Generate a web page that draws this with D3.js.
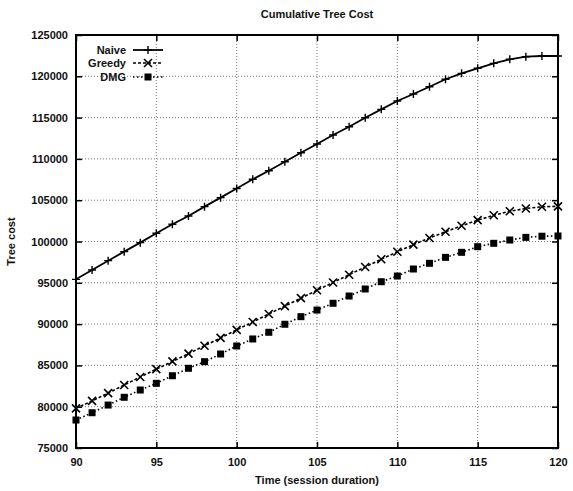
<!DOCTYPE html>
<html><head><meta charset="utf-8">
<script src="https://cdn.jsdelivr.net/npm/d3@7"></script>
<style>body{margin:0;background:#fff}svg{display:block}text{font-family:"Liberation Sans",Arial,sans-serif;fill:#111}</style>
</head><body><svg id="c" width="573" height="491"></svg>
<script>
const times = [90,91,92,93,94,95,96,97,98,99,100,101,102,103,104,105,106,107,108,109,110,111,112,113,114,115,116,117,118,119,120];
const naive = [95420,96550,97680,98770,99860,100990,102080,103090,104220,105310,106420,107530,108570,109660,110750,111800,112890,113900,114990,116000,117010,117860,118740,119640,120360,120970,121570,122060,122370,122460,122460];
const greedy = [79800,80700,81650,82620,83600,84550,85480,86420,87380,88330,89300,90260,91220,92180,93140,94100,95040,95980,96920,97850,98760,99620,100420,101180,101900,102580,103180,103660,104000,104200,104260];
const dmg = [78390,79270,80200,81140,82020,82830,83750,84650,85450,86380,87350,88200,89010,89980,90900,91700,92520,93400,94250,95130,95820,96670,97360,98080,98690,99370,99780,100180,100500,100640,100670];
const seriesNames = ["Naive","Greedy","DMG"];
const xTicks = [90,95,100,105,110,115,120];
const yTicks = [75000,80000,85000,90000,95000,100000,105000,110000,115000,120000,125000];

const L=76,R=558,T=35,B=448;
const svg=d3.select("#c");
const x=d3.scaleLinear().domain([90,120]).range([L,R]);
const y=d3.scaleLinear().domain([75000,125000]).range([B,T]);

// grid
const g=svg.append("g");
g.selectAll(".gx").data(xTicks.slice(1,-1)).join("line")
 .attr("x1",d=>x(d)).attr("x2",d=>x(d)).attr("y1",T).attr("y2",B)
 .attr("stroke","#555").attr("stroke-width",0.8).attr("stroke-dasharray","1,2");
g.selectAll(".gy").data(yTicks.slice(1,-1)).join("line")
 .attr("y1",d=>y(d)).attr("y2",d=>y(d)).attr("x1",L).attr("x2",R)
 .attr("stroke","#555").attr("stroke-width",0.8).attr("stroke-dasharray","1,2");

// axes
const ax=svg.append("g").attr("transform",`translate(0,${B})`)
 .call(d3.axisBottom(x).tickValues(xTicks).tickSize(-6).tickPadding(10).tickFormat(d3.format("d")));
const ay=svg.append("g").attr("transform",`translate(${L},0)`)
 .call(d3.axisLeft(y).tickValues(yTicks).tickSize(-6).tickPadding(8).tickFormat(d3.format("d")));
const at=svg.append("g").attr("transform",`translate(0,${T})`)
 .call(d3.axisTop(x).tickValues(xTicks).tickSize(-6).tickFormat(""));
const ar=svg.append("g").attr("transform",`translate(${R},0)`)
 .call(d3.axisRight(y).tickValues(yTicks).tickSize(-6).tickFormat(""));
[ax,ay,at,ar].forEach(a=>{a.select(".domain").remove();a.selectAll("line").attr("stroke","#000").attr("stroke-width",1.5);
 a.selectAll("text").attr("font-size","11px").attr("font-weight","bold").attr("fill","#111");});
svg.append("rect").attr("x",L).attr("y",T).attr("width",R-L).attr("height",B-T)
 .attr("fill","none").attr("stroke","#000").attr("stroke-width",2);

// series
const styles=[{dash:null,mark:"plus"},{dash:"3,2",mark:"cross"},{dash:"1.5,2.5",mark:"square"}];
const all=[naive,greedy,dmg];
const line=d3.line().x((d,i)=>x(times[i])).y(d=>y(d));
function marker(sel,type,cx,cy){
 if(type==="plus"){
  sel.append("path").attr("d",`M${cx-4},${cy}H${cx+4}M${cx},${cy-4}V${cy+4}`).attr("stroke","#000").attr("stroke-width",1.4);
 } else if(type==="cross"){
  sel.append("path").attr("d",`M${cx-4},${cy-4}L${cx+4},${cy+4}M${cx-4},${cy+4}L${cx+4},${cy-4}`).attr("stroke","#000").attr("stroke-width",1.6);
 } else {
  sel.append("rect").attr("x",cx-3.5).attr("y",cy-3.5).attr("width",7).attr("height",7).attr("fill","#000");
 }
}
all.forEach((vals,k)=>{
 svg.append("path").datum(vals).attr("d",line).attr("fill","none").attr("stroke","#000")
  .attr("stroke-width",k===0?1.8:1.6).attr("stroke-dasharray",styles[k].dash);
 const mg=svg.append("g");
 vals.forEach((v,i)=>marker(mg,styles[k].mark,x(times[i]),y(v)));
});

// legend
const ly=[50,63,77];
seriesNames.forEach((n,k)=>{
 svg.append("text").attr("x",126).attr("y",ly[k]+4).attr("text-anchor","end").attr("font-size","11px").attr("font-weight","bold").text(n);
 svg.append("line").attr("x1",133).attr("x2",163).attr("y1",ly[k]).attr("y2",ly[k]).attr("stroke","#000")
  .attr("stroke-width",k===0?1.8:1.6).attr("stroke-dasharray",styles[k].dash);
 marker(svg,styles[k].mark,148,ly[k]);
});

// titles
svg.append("text").attr("x",(L+R)/2).attr("y",18).attr("text-anchor","middle").attr("font-size","11px").attr("font-weight","bold").text("Cumulative Tree Cost");
svg.append("text").attr("x",(L+R)/2).attr("y",484).attr("text-anchor","middle").attr("font-size","11px").attr("font-weight","bold").text("Time (session duration)");
svg.append("text").attr("transform",`translate(15,${(T+B)/2}) rotate(-90)`).attr("text-anchor","middle").attr("font-size","11px").attr("font-weight","bold").text("Tree cost");
</script></body></html>
